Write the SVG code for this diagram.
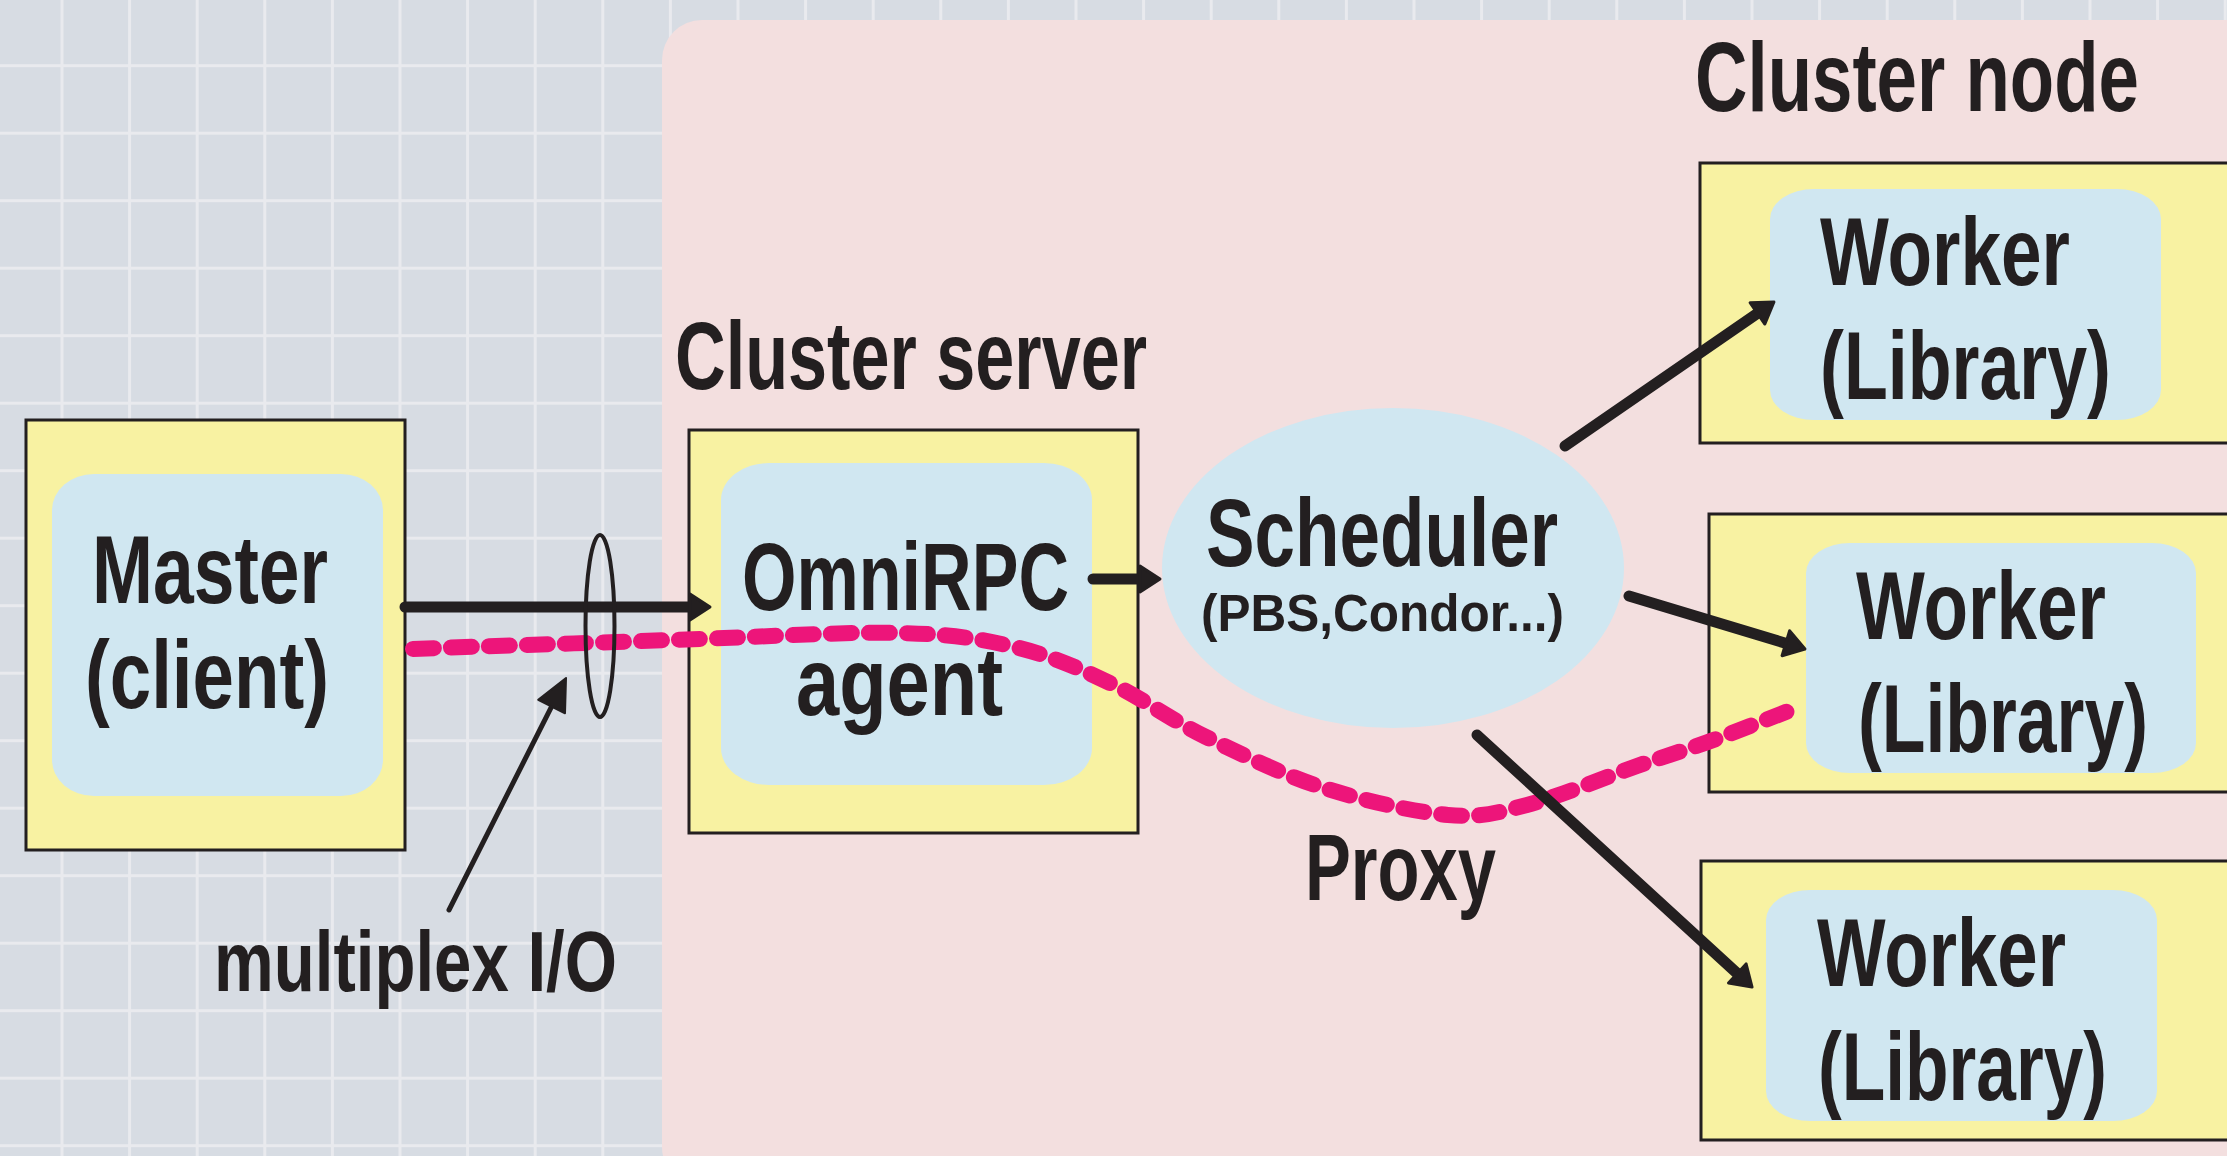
<svg xmlns="http://www.w3.org/2000/svg" width="2227" height="1156" viewBox="0 0 2227 1156">
<defs>
<pattern id="grid" patternUnits="userSpaceOnUse" x="-7.1" y="-3.3" width="67.6" height="67.5">
<rect width="67.6" height="67.5" fill="#d7dce3"/>
<rect x="0" y="0" width="3" height="67.5" fill="#e9eaee"/>
<rect x="0" y="0" width="67.6" height="3" fill="#e9eaee"/>
</pattern>
<marker id="ah" markerUnits="userSpaceOnUse" viewBox="-2 -2 24 30" markerWidth="24" markerHeight="30" refX="5" refY="13" orient="auto" overflow="visible">
<path d="M0,0 L20,13 L0,26 Z" fill="#231f20" stroke="#231f20" stroke-width="3" stroke-linejoin="round"/>
</marker>
<marker id="ahs" markerUnits="userSpaceOnUse" viewBox="-2 -2 36 34" markerWidth="36" markerHeight="34" refX="8" refY="15" orient="auto" overflow="visible">
<path d="M0,0 L32,15 L0,30 Z" fill="#231f20" stroke="#231f20" stroke-width="2" stroke-linejoin="round"/>
</marker>
<style>
.outer{fill:#f8f2a2;stroke:#231f20;stroke-width:3}
.inner{fill:#d0e7f1}
.t{font-family:"Liberation Sans",Arial,sans-serif;font-weight:bold;fill:#231f20;font-size:96px}
.conn{stroke:#231f20;stroke-width:11;stroke-linecap:round;fill:none}
.thin{stroke:#231f20;stroke-width:5;stroke-linecap:round;fill:none}
.proxy{stroke:#ed157a;stroke-width:16;stroke-linecap:round;stroke-dasharray:21 17;fill:none}
</style>
</defs>
<rect x="0" y="0" width="2227" height="1156" fill="url(#grid)"/>
<rect id="cluster-area" x="662" y="20" width="1620" height="1167" rx="40" ry="40" fill="#f3dfdf"/>

<g id="labels">
<text class="t" x="675" y="389" textLength="472" lengthAdjust="spacingAndGlyphs">Cluster server</text>
<text class="t" x="1695" y="111" textLength="444" lengthAdjust="spacingAndGlyphs" style="font-size:98px">Cluster node</text>
<text class="t" x="1305" y="900" textLength="191" lengthAdjust="spacingAndGlyphs" style="font-size:95px">Proxy</text>
<text class="t" x="214" y="991" textLength="403" lengthAdjust="spacingAndGlyphs" style="font-size:85px">multiplex I/O</text>
</g>

<g id="master">
<rect class="outer" x="26" y="420" width="379" height="430"/>
<rect class="inner" x="52" y="474" width="331" height="322" rx="42" ry="36"/>
<text class="t" x="92" y="603" textLength="236" lengthAdjust="spacingAndGlyphs">Master</text>
<text class="t" x="85" y="708" textLength="244" lengthAdjust="spacingAndGlyphs">(client)</text>
</g>

<g id="omnirpc-agent">
<rect class="outer" x="689" y="430" width="449" height="403"/>
<rect class="inner" x="721" y="463" width="371" height="322" rx="48" ry="37"/>
<text class="t" x="742" y="610" textLength="327" lengthAdjust="spacingAndGlyphs">OmniRPC</text>
<text class="t" x="796" y="715" textLength="207" lengthAdjust="spacingAndGlyphs">agent</text>
</g>

<g id="scheduler">
<ellipse cx="1393" cy="568" rx="231" ry="160" fill="#d0e7f1"/>
<text class="t" x="1206" y="566" textLength="352" lengthAdjust="spacingAndGlyphs">Scheduler</text>
<text class="t" x="1201" y="631" textLength="363" lengthAdjust="spacingAndGlyphs" style="font-size:51px">(PBS,Condor...)</text>
</g>

<g id="worker1">
<rect class="outer" x="1700" y="163" width="540" height="280"/>
<rect class="inner" x="1770" y="189" width="391" height="231" rx="44" ry="30"/>
<text class="t" x="1820" y="285" textLength="250" lengthAdjust="spacingAndGlyphs">Worker</text>
<text class="t" x="1820" y="399" textLength="291" lengthAdjust="spacingAndGlyphs">(Library)</text>
</g>

<g id="worker2">
<rect class="outer" x="1709" y="514" width="531" height="278"/>
<rect class="inner" x="1806" y="543" width="390" height="230" rx="44" ry="30"/>
<text class="t" x="1856" y="639" textLength="250" lengthAdjust="spacingAndGlyphs">Worker</text>
<text class="t" x="1858" y="752" textLength="290" lengthAdjust="spacingAndGlyphs">(Library)</text>
</g>

<g id="worker3">
<rect class="outer" x="1701" y="861" width="539" height="279"/>
<rect class="inner" x="1766" y="890" width="391" height="231" rx="44" ry="30"/>
<text class="t" x="1817" y="986" textLength="249" lengthAdjust="spacingAndGlyphs">Worker</text>
<text class="t" x="1818" y="1100" textLength="289" lengthAdjust="spacingAndGlyphs">(Library)</text>
</g>

<g id="connectors">
<path id="proxy-path" class="proxy" d="M413,649 C461,647 619,642 700,639 C781,636 847.5,631.7 900,633 C952.5,634.3 980,638.7 1015,647 C1050,655.3 1078,668 1110,683 C1142,698 1171,720 1206,737 C1241,754 1281,774 1321,787 C1361,800 1414,812 1448,815 C1482,818 1496,813 1527,805 C1558.5,796.8 1606,777 1637,766 C1668.5,755 1689,749 1716,739 C1743,729 1787,711.5 1801,706"/>
<line class="conn" x1="405" y1="607" x2="695" y2="607" marker-end="url(#ah)"/>
<line class="conn" x1="1093" y1="579" x2="1145" y2="579" marker-end="url(#ah)"/>
<line class="conn" x1="1565" y1="446" x2="1761.6" y2="310.5" marker-end="url(#ah)"/>
<line class="conn" x1="1629" y1="596" x2="1790.6" y2="644.7" marker-end="url(#ah)"/>
<line class="conn" x1="1477" y1="735" x2="1741" y2="976.9" marker-end="url(#ah)"/>
<line class="thin" x1="449" y1="910" x2="555.2" y2="699.4" marker-end="url(#ahs)"/>
<ellipse id="multiplex-ring" cx="600" cy="626" rx="14.5" ry="91" fill="none" stroke="#231f20" stroke-width="4"/>
</g>
</svg>
